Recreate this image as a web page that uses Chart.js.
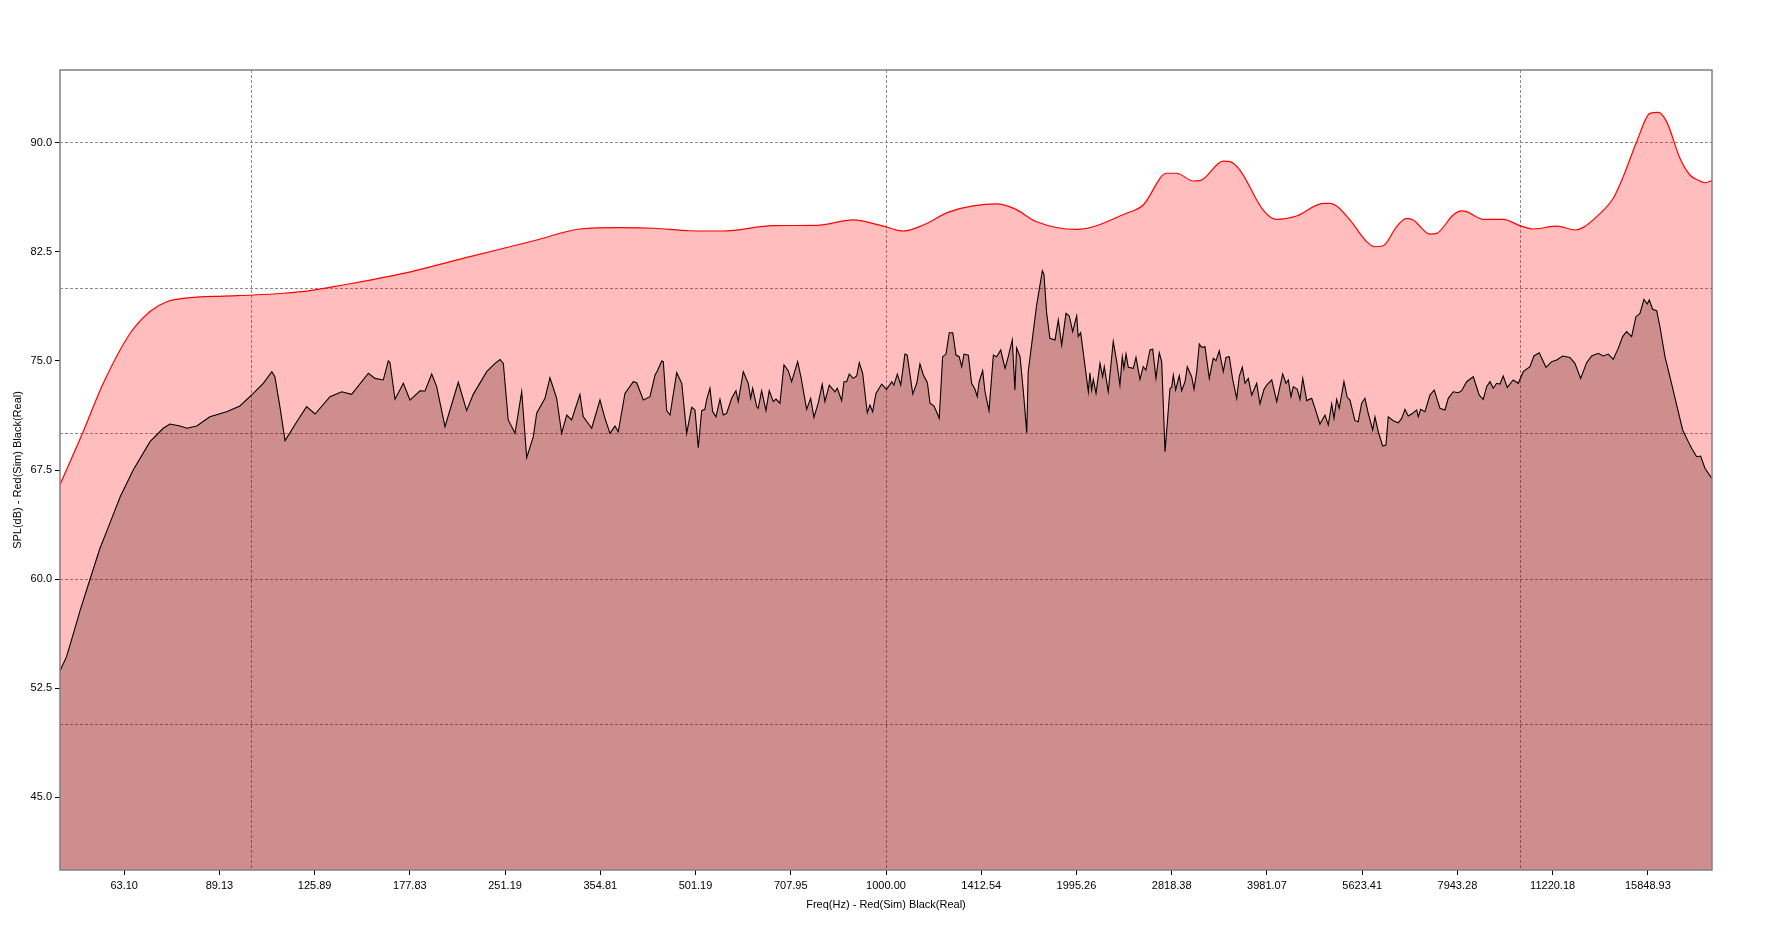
<!DOCTYPE html>
<html>
<head>
<meta charset="utf-8">
<title>SPL - Sim vs Real</title>
<script src="https://cdn.jsdelivr.net/npm/chart.js@4"></script>
<style>
    html, body { margin: 0; padding: 0; background: #ffffff; }
    #splChart { display: block; }
</style>
</head>
<body>
<canvas id="splChart" width="1772" height="941"></canvas>
<script>
// --- Data ---

const xTickLabels = ["63.10", "89.13", "125.89", "177.83", "251.19", "354.81", "501.19", "707.95", "1000.00",
    "1412.54", "1995.26", "2818.38", "3981.07", "5623.41", "7943.28", "11220.18", "15848.93"];
const xGridValues = [100, 1000, 10000];
const yTickLabels = ["45.0", "52.5", "60.0", "67.5", "75.0", "82.5", "90.0"];
const yGridValues = [50, 60, 70, 80, 90];

// Red(Sim)
const simFreq = [50, 54.1, 58.5, 64.5, 69.3, 73.6, 80.1, 90.4, 100.8, 112.4,
    123.8, 139.7, 153.9, 173.7, 221.2, 281.7, 329.6, 381.0, 430.0, 491,
    554.2, 664.4, 777.6, 888.1, 990, 1065, 1145, 1261, 1494, 1596,
    1727, 1997, 2393, 2542, 2767, 2869, 3048, 3122, 3398, 3482,
    3610, 3928, 4124, 4434, 4884, 5003, 5127, 5380, 5716, 5891,
    6071, 6373, 6608, 6768, 7190, 7368, 7825, 8066, 8214, 8725,
    9381, 9967, 10459, 11386, 12166, 12539, 13164, 13979, 14496, 15219,
    15969, 16457, 16965, 17806, 18462, 19145, 19493, 20000];
const simSpl = [66.5, 69.9, 73.46, 76.9, 78.4, 79.07, 79.35, 79.46, 79.53, 79.65,
    79.83, 80.22, 80.56, 81.02, 82.17, 83.31, 84.07, 84.16, 84.12, 83.95,
    83.93, 84.3, 84.32, 84.69, 84.27, 83.93, 84.34, 85.26, 85.79, 85.45,
    84.57, 84.04, 85.15, 85.72, 87.9, 87.9, 87.37, 87.39, 88.74, 88.7,
    88.12, 85.37, 84.73, 84.96, 85.83, 85.83, 85.65, 84.69, 83.2, 82.85,
    82.92, 84.23, 84.8, 84.69, 83.72, 83.77, 85.03, 85.31, 85.26, 84.73,
    84.73, 84.3, 84.07, 84.27, 84.0, 84.18, 84.92, 86.18, 87.67, 90.07,
    92.02, 92.09, 91.45, 88.93, 87.78, 87.37, 87.25, 87.39];

// Black(Real)
const realFreq = [50, 51.2, 52.5, 53.8, 55.7, 57.8, 59.9, 62.2, 65.2, 69.3,
    72.7, 74.5, 77.3, 79.2, 82.1, 86.1, 91.5, 96.0, 100.8, 104.5,
    107.8, 109.0, 111.0, 113.1, 118.0, 122.3, 126.1, 133.1, 138.9, 144.0,
    153.0, 156.7, 161.5, 164.5, 165.5, 168.5, 173.7, 177.9, 184.5, 187.9,
    192.5, 196.0, 202.0, 212.0, 218.5, 223.8, 235.0, 242.2, 246.6, 249.6,
    254.1, 260.4, 266.8, 271.7, 278.3, 281.7, 290.3, 295.6, 302.9, 308.4,
    314.1, 319.8, 329.5, 333.5, 343.9, 354.4, 360.9, 367.5, 374.2, 378.7,
    388.0, 399.9, 404.9, 414.7, 424.9, 432.7, 436.3, 443.3, 445.9, 451.4,
    456.9, 468.1, 476.8, 485.3, 494.2, 500.2, 506.2, 512.5, 518.6, 521.9,
    528.1, 533.3, 539.7, 547.6, 554.2, 561.1, 571.4, 580.3, 585.2, 595.9,
    606.8, 612.1, 616.6, 625.6, 629.2, 637.0, 647.0, 654.8, 664.4, 670.9,
    680.7, 690.7, 701.5, 710.2, 725.8, 734.5, 749.9, 760.9, 770.0, 782.1,
    793.5, 801.3, 814.0, 831.0, 838.0, 851.4, 858.6, 867.0, 875.3, 888.0,
    899.1, 907.6, 918.8, 934.3, 943.5, 952.8, 964.2, 984.4, 1002, 1021,
    1029, 1042, 1055, 1071, 1080, 1102, 1118, 1131, 1145, 1162,
    1173, 1190, 1202, 1213, 1228, 1243, 1258, 1274, 1289, 1304,
    1316, 1327, 1348, 1364, 1381, 1392, 1402, 1420, 1432, 1453,
    1476, 1494, 1516, 1540, 1558, 1581, 1596, 1606, 1626, 1645,
    1666, 1675, 1706, 1727, 1763, 1773, 1791, 1812, 1846, 1868,
    1891, 1921, 1944, 1968, 1997, 2008, 2026, 2083, 2095, 2108,
    2121, 2142, 2173, 2194, 2207, 2239, 2280, 2309, 2336, 2356,
    2370, 2388, 2408, 2452, 2476, 2512, 2542, 2567, 2605, 2631,
    2662, 2694, 2718, 2751, 2801, 2818, 2835, 2859, 2897, 2922,
    2958, 2982, 3030, 3056, 3086, 3115, 3142, 3180, 3230, 3277,
    3310, 3349, 3398, 3432, 3473, 3516, 3568, 3602, 3641, 3677,
    3721, 3767, 3836, 3882, 3939, 3978, 4051, 4125, 4215, 4266,
    4302, 4344, 4381, 4445, 4488, 4533, 4599, 4683, 4740, 4825,
    4914, 4973, 5035, 5077, 5127, 5175, 5264, 5327, 5380, 5478,
    5544, 5613, 5681, 5749, 5842, 5891, 5962, 6057, 6130, 6182,
    6295, 6410, 6490, 6568, 6647, 6754, 6853, 6893, 6953, 7062,
    7191, 7304, 7457, 7593, 7684, 7825, 7968, 8067, 8215, 8414,
    8599, 8724, 8832, 8939, 9046, 9158, 9269, 9380, 9517, 9727,
    9905, 10086, 10334, 10485, 10689, 10952, 11180, 11385, 11635, 11947,
    12166, 12420, 12693, 12925, 13238, 13480, 13727, 13978, 14234, 14463,
    14675, 14943, 15178, 15400, 15625, 15814, 15929, 16127, 16363, 16560,
    16863, 17171, 17593, 17981, 18350, 18577, 18917, 19193, 19495, 20000];
const realSpl = [53.7, 54.67, 56.27, 57.87, 59.94, 62.12, 63.83, 65.66, 67.5, 69.45,
    70.37, 70.66, 70.52, 70.37, 70.52, 71.16, 71.51, 71.9, 72.77, 73.46,
    74.26, 73.91, 71.86, 69.52, 70.82, 71.86, 71.35, 72.54, 72.88, 72.7,
    74.15, 73.8, 73.69, 75.0, 74.88, 72.36, 73.46, 72.31, 72.95, 72.93,
    74.1, 73.23, 70.48, 73.53, 71.58, 72.7, 74.26, 74.83, 75.1, 74.83,
    70.94, 70.02, 72.88, 68.35, 69.79, 71.4, 72.43, 73.84, 72.43, 70.02,
    71.28, 70.94, 72.7, 71.17, 70.37, 72.31, 71.05, 70.02, 70.52, 70.13,
    72.77, 73.57, 73.5, 72.31, 72.54, 74.03, 74.3, 75.0, 74.95, 71.58,
    71.28, 74.19, 73.46, 70.02, 71.81, 71.63, 69.03, 71.58, 71.67, 72.36,
    73.12, 71.51, 71.16, 72.36, 71.28, 71.4, 72.43, 72.95, 72.2, 74.26,
    73.46, 72.43, 73.12, 71.86, 71.74, 72.95, 71.58, 72.95, 72.2, 72.38,
    72.09, 74.72, 74.33, 73.57, 74.95, 73.91, 71.67, 72.43, 71.12, 72.09,
    73.39, 72.2, 73.34, 72.88, 73.12, 72.27, 73.57, 73.57, 74.1, 73.8,
    73.96, 74.88, 74.15, 71.44, 71.97, 71.51, 72.77, 73.41, 73.05, 73.57,
    73.34, 74.1, 73.34, 75.47, 75.4, 72.72, 73.46, 74.79, 74.03, 73.5,
    72.09, 71.9, 71.47, 71.05, 75.29, 75.47, 76.94, 76.94, 75.4, 75.29,
    74.6, 75.47, 75.4, 73.46, 73.05, 72.54, 73.57, 74.33, 72.88, 71.58,
    75.4, 75.29, 75.75, 74.49, 75.29, 76.44, 73.0, 75.9, 75.3, 73.0,
    70.07, 74.26, 77.01, 78.84, 81.2, 80.97, 78.27, 76.55, 76.44, 77.81,
    76.09, 78.27, 78.09, 77.01, 78.09, 76.67, 76.94, 72.88, 74.19, 73.0,
    73.73, 72.77, 74.83, 73.91, 74.6, 72.88, 76.33, 74.95, 73.34, 75.29,
    74.49, 75.47, 74.56, 74.49, 75.24, 73.73, 74.6, 74.37, 75.75, 75.8,
    73.8, 75.56, 74.95, 68.76, 73.12, 73.18, 74.03, 73.0, 73.98, 72.95,
    73.57, 74.6, 73.91, 73.05, 74.26, 76.16, 75.93, 75.98, 73.8, 75.18,
    75.02, 75.68, 74.26, 75.24, 75.29, 73.73, 72.43, 73.96, 74.56, 73.46,
    73.8, 72.65, 73.46, 72.04, 73.05, 73.34, 73.69, 72.2, 74.1, 73.46,
    73.69, 72.54, 73.23, 73.05, 72.36, 73.8, 72.27, 72.43, 71.74, 70.66,
    71.28, 70.59, 72.04, 71.05, 72.36, 71.74, 73.57, 72.5, 72.31, 70.89,
    70.82, 72.09, 72.43, 71.4, 70.25, 71.16, 70.13, 69.15, 69.22, 71.16,
    70.89, 70.75, 71.05, 71.67, 71.21, 71.4, 71.63, 71.16, 71.67, 71.51,
    72.65, 73.0, 71.74, 71.63, 72.43, 72.88, 72.81, 72.95, 73.57, 73.91,
    72.65, 72.36, 73.23, 73.57, 73.12, 73.46, 73.41, 73.96, 73.18, 73.69,
    73.46, 74.26, 74.6, 75.34, 75.56, 74.56, 74.95, 75.06, 75.34, 75.24,
    74.83, 73.8, 74.88, 75.34, 75.52, 75.34, 75.47, 75.11, 75.86, 76.67,
    77.01, 76.67, 78.04, 78.27, 79.23, 78.91, 79.19, 78.55, 78.45, 77.35,
    75.29, 73.91, 71.97, 70.25, 69.45, 68.99, 68.41, 68.46, 67.62, 66.9];

// --- Chart setup ---

const axisFont = { family: "'Liberation Sans', Arial, sans-serif", size: 11 };
const gridColor = "#8a8a8a";

function toPoints(xs, ys) {
    return xs.map((x, i) => ({ x: x, y: ys[i] }));
}

// plot frame drawn around the chart area
const framePlugin = {
    id: "frame",
    afterDraw(chart) {
        const { ctx, chartArea } = chart;
        ctx.save();
        ctx.strokeStyle = "#808080";
        ctx.lineWidth = 1.5;
        ctx.strokeRect(chartArea.left, chartArea.top,
            chartArea.right - chartArea.left, chartArea.bottom - chartArea.top);
        ctx.restore();
    }
};

const ctx = document.getElementById("splChart").getContext("2d");

new Chart(ctx, {
    type: "line",
    data: {
        datasets: [{
            label: "Sim",
            data: toPoints(simFreq, simSpl),
            borderColor: "#ff0000",
            borderWidth: 1.2,
            backgroundColor: "rgba(255,0,0,0.26)",
            fill: "start",
            pointRadius: 0,
            cubicInterpolationMode: "monotone",
            order: 1
        }, {
            label: "Real",
            data: toPoints(realFreq, realSpl),
            borderColor: "#000000",
            borderWidth: 1.1,
            backgroundColor: "rgba(60,0,0,0.25)",
            fill: "start",
            pointRadius: 0,
            tension: 0,
            order: 0
        }]
    },
    options: {
        responsive: false,
        animation: false,
        devicePixelRatio: 1,
        layout: { padding: { left: 0, top: 70, right: 60, bottom: 0 } },
        plugins: {
            legend: { display: false },
            tooltip: { enabled: false }
        },
        scales: {
            x: {
                type: "logarithmic",
                position: "bottom",
                min: 50,
                max: 20000,
                afterBuildTicks: axis => {
                    axis.ticks = xTickLabels.map(t => ({ value: Number(t) }));
                },
                afterFit: axis => { axis.height = 71; },
                ticks: {
                    callback: (value, index) => xTickLabels[index],
                    autoSkip: false,
                    maxRotation: 0,
                    color: "#000",
                    padding: 4,
                    font: axisFont
                },
                grid: { drawOnChartArea: false, drawTicks: true, tickLength: 5, tickColor: "#000", tickWidth: 1 },
                border: { display: false },
                title: {
                    display: true,
                    text: "Freq(Hz) - Red(Sim) Black(Real)",
                    color: "#000",
                    font: axisFont,
                    padding: { top: 4, bottom: 29 }
                }
            },
            xGrid: {
                type: "logarithmic",
                position: "bottom",
                min: 50,
                max: 20000,
                z: 1,
                afterBuildTicks: axis => {
                    axis.ticks = xGridValues.map(v => ({ value: v }));
                },
                afterFit: axis => { axis.height = 0; },
                ticks: { display: false },
                grid: { color: gridColor, lineWidth: 1, drawTicks: false },
                border: { display: false, dash: [3, 2] }
            },
            y: {
                type: "linear",
                position: "left",
                min: 40,
                max: 95,
                afterBuildTicks: axis => {
                    axis.ticks = yTickLabels.map(t => ({ value: Number(t) }));
                },
                afterFit: axis => { axis.width = 60; },
                ticks: {
                    callback: (value, index) => yTickLabels[index],
                    color: "#000",
                    padding: 3,
                    font: axisFont
                },
                grid: { drawOnChartArea: false, drawTicks: true, tickLength: 5, tickColor: "#000", tickWidth: 1 },
                border: { display: false },
                title: {
                    display: true,
                    text: "SPL(dB) - Red(Sim) Black(Real)",
                    color: "#000",
                    font: axisFont,
                    padding: { top: 11, bottom: 0 }
                }
            },
            yGrid: {
                type: "linear",
                position: "left",
                min: 40,
                max: 95,
                z: 1,
                afterBuildTicks: axis => {
                    axis.ticks = yGridValues.map(v => ({ value: v }));
                },
                afterFit: axis => { axis.width = 0; },
                ticks: { display: false },
                grid: { color: gridColor, lineWidth: 1, drawTicks: false },
                border: { display: false, dash: [3, 2] }
            }
        }
    },
    plugins: [framePlugin]
});
</script>
</body>
</html>
